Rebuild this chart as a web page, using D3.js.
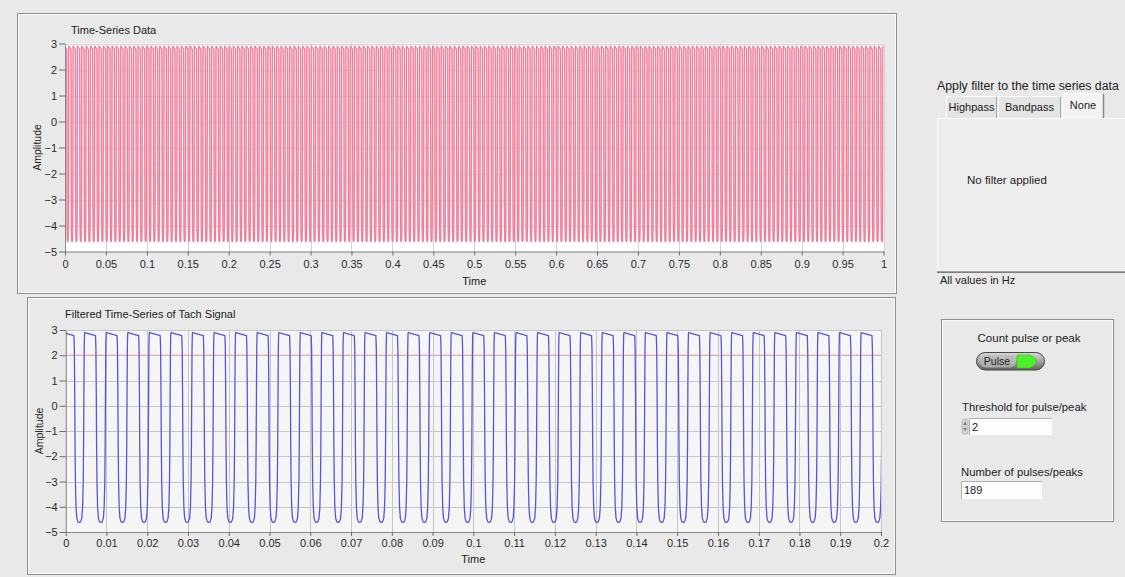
<!DOCTYPE html>
<html>
<head>
<meta charset="utf-8">
<script src="https://cdn.jsdelivr.net/npm/d3@7"></script>
<style>
  html, body { margin: 0; padding: 0; background: #e9e9e9; }
  svg { display: block; font-family: "Liberation Sans", Arial, sans-serif; }
</style>
</head>
<body>
<svg id="vi" width="1125" height="577"></svg>
<script>
// ---------- data ----------
const ampTicks = [3, 2, 1, 0, -1, -2, -3, -4, -5];
const timeTicksFull = [0, 0.05, 0.1, 0.15, 0.2, 0.25, 0.3, 0.35, 0.4, 0.45, 0.5,
                       0.55, 0.6, 0.65, 0.7, 0.75, 0.8, 0.85, 0.9, 0.95, 1];
const timeTicksZoom = [0, 0.01, 0.02, 0.03, 0.04, 0.05, 0.06, 0.07, 0.08, 0.09, 0.1,
                       0.11, 0.12, 0.13, 0.14, 0.15, 0.16, 0.17, 0.18, 0.19, 0.2];

const pulseCount = 189;        // pulses counted over the 1 s record
const pulseThreshold = 2;      // threshold level for pulse counting
const firstDipTime = 0.00334;  // time of the first trough (s)

// One tach period, as phase (fraction of a period, 0 = trough) and amplitude
const pulsePhase = [-0.25, -0.231, -0.213, -0.199, -0.181, -0.153, -0.116, -0.06, 0,
                    0.06, 0.116, 0.153, 0.181, 0.199, 0.213, 0.227, 0.241, 0.255, 0.5];
const pulseAmp   = [2.78, 2.3, 0.5, -1.5, -3.0, -4.0, -4.45, -4.6, -4.62,
                    -4.6, -4.45, -4.0, -3.0, -1.5, 0.5, 2.3, 2.85, 2.9, 2.84];

const filterTabs = ["Highpass", "Bandpass", "None"];
const selectedTab = "None";
const pulseMode = "Pulse";

// ---------- helpers ----------
const svg = d3.select("#vi");
const period = 1 / pulseCount;

function tachSamples(t0, t1) {
  const out = [];
  const kStart = Math.floor((t0 - firstDipTime) / period) - 1;
  const kEnd = Math.ceil((t1 - firstDipTime) / period) + 1;
  for (let k = kStart; k <= kEnd; k++) {
    pulsePhase.forEach((p, i) => out.push({ t: firstDipTime + (k + p) * period, v: pulseAmp[i] }));
  }
  return out;
}

function frame(x, y, w, h) {
  svg.append("rect").attr("x", x + 0.5).attr("y", y + 0.5).attr("width", w).attr("height", h)
    .attr("fill", "none").attr("stroke", "#8e8e8e");
  svg.append("rect").attr("x", x + 1.5).attr("y", y + 1.5).attr("width", w - 2).attr("height", h - 2)
    .attr("fill", "none").attr("stroke", "#fbfbfb");
}

function graph(cfg) {
  frame(cfg.frame[0], cfg.frame[1], cfg.frame[2], cfg.frame[3]);

  const x = d3.scaleLinear().domain([cfg.ticks[0], cfg.ticks[cfg.ticks.length - 1]]).range([cfg.x0, cfg.x1]);
  const y = d3.scaleLinear().domain([-5, 3]).range([cfg.y1, cfg.y0]);
  const g = svg.append("g");

  g.append("rect").attr("x", cfg.x0).attr("y", cfg.y0).attr("width", cfg.x1 - cfg.x0)
    .attr("height", cfg.y1 - cfg.y0).attr("fill", cfg.plotBg);

  // grid
  g.append("g").selectAll("line").data(ampTicks).join("line")
    .attr("x1", cfg.x0).attr("x2", cfg.x1)
    .attr("y1", d => Math.round(y(d)) + 0.5).attr("y2", d => Math.round(y(d)) + 0.5)
    .attr("stroke", cfg.gridColor);
  g.append("g").selectAll("line").data(cfg.ticks).join("line")
    .attr("y1", cfg.y0).attr("y2", cfg.y1)
    .attr("x1", d => Math.round(x(d)) + 0.5).attr("x2", d => Math.round(x(d)) + 0.5)
    .attr("stroke", cfg.gridColor);

  // threshold cursor
  if (cfg.threshold !== undefined) {
    g.append("line").attr("x1", cfg.x0).attr("x2", cfg.x1)
      .attr("y1", y(cfg.threshold)).attr("y2", y(cfg.threshold))
      .attr("stroke", "#eaa3a3").attr("stroke-width", 1.2);
  }

  // signal
  const clipId = "clip" + cfg.id;
  svg.append("clipPath").attr("id", clipId).append("rect")
    .attr("x", cfg.x0).attr("y", cfg.y0 - 2).attr("width", cfg.x1 - cfg.x0).attr("height", cfg.y1 - cfg.y0 + 4);
  const line = d3.line().x(d => x(d.t)).y(d => y(d.v));
  const samples = tachSamples(x.domain()[0], x.domain()[1]);
  (cfg.strokes).forEach(s => {
    g.append("path").datum(samples)
      .attr("clip-path", `url(#${clipId})`)
      .attr("d", line).attr("fill", "none")
      .attr("stroke", s.color).attr("stroke-width", s.width)
      .attr("stroke-linejoin", "round");
  });

  // axes
  const fmt = d3.format("~g");
  const ay = g.append("g").attr("transform", `translate(${cfg.x0},0)`)
    .call(d3.axisLeft(y).tickValues(ampTicks).tickFormat(fmt).tickSize(6).tickPadding(2).tickSizeOuter(0));
  const ax = g.append("g").attr("transform", `translate(0,${cfg.y1})`)
    .call(d3.axisBottom(x).tickValues(cfg.ticks).tickFormat(fmt).tickSize(4).tickPadding(cfg.xPad).tickSizeOuter(0));
  [ay, ax].forEach(a => {
    a.select(".domain").attr("stroke", "#8a8a8a");
    a.selectAll(".tick line").attr("stroke", "#6a6a6a");
    a.selectAll(".tick text").attr("fill", "#2b2b2b").attr("font-size", 11)
      .attr("font-family", "\"Liberation Sans\", Arial, sans-serif");
  });

  // titles
  svg.append("text").attr("x", cfg.titleX).attr("y", cfg.titleY).attr("font-size", 11)
    .attr("fill", "#222").text(cfg.title);
  svg.append("text").attr("transform", `translate(${cfg.ampX},${(cfg.y0 + cfg.y1) / 2}) rotate(-90)`)
    .attr("text-anchor", "middle").attr("font-size", 10.5).attr("fill", "#222").text("Amplitude");
  svg.append("text").attr("x", (cfg.x0 + cfg.x1) / 2).attr("y", cfg.timeY).attr("text-anchor", "middle")
    .attr("font-size", 11).attr("fill", "#222").text("Time");
}

// ---------- graphs ----------
graph({
  id: "raw", frame: [17, 13, 879, 280],
  x0: 65, x1: 883.5, y0: 43.5, y1: 251.5,
  ticks: timeTicksFull, plotBg: "#ffffff", gridColor: "#d4d4d4",
  strokes: [{ color: "#f8b3c3", width: 1.6 }, { color: "#e95a7d", width: 0.65 }], xPad: 5,
  title: "Time-Series Data", titleX: 71, titleY: 34, ampX: 41, timeY: 285
});

graph({
  id: "tach", frame: [27, 297, 868, 277],
  x0: 65.7, x1: 881, y0: 330, y1: 532,
  ticks: timeTicksZoom, plotBg: "#f5f5f5", gridColor: "#c6c6c6",
  strokes: [{ color: "#5656d8", width: 1.3 }], xPad: 3, threshold: pulseThreshold,
  title: "Filtered Time-Series of Tach Signal", titleX: 65, titleY: 318, ampX: 43, timeY: 563
});

// ---------- filter selector ----------
svg.append("text").attr("x", 937).attr("y", 90).attr("font-size", 12.3).attr("fill", "#222")
  .text("Apply filter to the time series data");

// tab page
svg.append("rect").attr("x", 937).attr("y", 118).attr("width", 200).attr("height", 154).attr("fill", "#ededed");
svg.append("line").attr("x1", 937.5).attr("x2", 937.5).attr("y1", 118).attr("y2", 272).attr("stroke", "#ffffff");
svg.append("line").attr("x1", 937).attr("x2", 1125).attr("y1", 118.5).attr("y2", 118.5).attr("stroke", "#ffffff");
svg.append("line").attr("x1", 937).attr("x2", 1125).attr("y1", 271.5).attr("y2", 271.5).attr("stroke", "#a2a2a2");
svg.append("line").attr("x1", 937).attr("x2", 1125).attr("y1", 272.5).attr("y2", 272.5).attr("stroke", "#7d7d7d");

const tabX = [946, 998, 1062, 1104];
filterTabs.forEach((name, i) => {
  const sel = name === selectedTab;
  const x0 = tabX[i], x1 = tabX[i + 1] - (sel ? 0 : 1);
  const top = sel ? 93 : 96;
  svg.append("rect").attr("x", x0).attr("y", top).attr("width", x1 - x0).attr("height", 118 - top + (sel ? 1 : 0))
    .attr("fill", sel ? "#f3f3f3" : "#e4e4e4");
  svg.append("path").attr("d", `M${x0 + 0.5},118 V${top + 0.5} H${x1 - 0.5}`).attr("fill", "none").attr("stroke", "#ffffff");
  svg.append("line").attr("x1", x1 - 0.5).attr("x2", x1 - 0.5).attr("y1", top + 1).attr("y2", 118)
    .attr("stroke", sel ? "#8a8a8a" : "#a6a6a6").attr("stroke-width", sel ? 1.5 : 1);
  svg.append("text").attr("x", (x0 + x1) / 2).attr("y", sel ? 109 : 111).attr("text-anchor", "middle")
    .attr("font-size", 11).attr("fill", "#222").text(name);
});

svg.append("text").attr("x", 967).attr("y", 184).attr("font-size", 11.5).attr("fill", "#222").text("No filter applied");
svg.append("text").attr("x", 940).attr("y", 284).attr("font-size", 11).attr("fill", "#222").text("All values in Hz");

// ---------- pulse counter ----------
frame(941, 319, 172, 202);
svg.append("text").attr("x", 1029).attr("y", 342).attr("text-anchor", "middle").attr("font-size", 11.5)
  .attr("fill", "#222").text("Count pulse or peak");

const grad = svg.append("defs").append("linearGradient").attr("id", "knob").attr("x1", 0).attr("x2", 0).attr("y1", 0).attr("y2", 1);
grad.append("stop").attr("offset", 0).attr("stop-color", "#d8d8d8");
grad.append("stop").attr("offset", 0.5).attr("stop-color", "#a4a4a4");
grad.append("stop").attr("offset", 1).attr("stop-color", "#5e5e5e");
svg.append("rect").attr("x", 976.5).attr("y", 352.5).attr("width", 68).attr("height", 17.5).attr("rx", 8.7)
  .attr("fill", "url(#knob)").attr("stroke", "#474747");
svg.append("rect").attr("x", 980).attr("y", 355).attr("width", 36).attr("height", 12.5).attr("rx", 6)
  .attr("fill", "#bdbdbd").attr("opacity", 0.7);
svg.append("text").attr("x", 997).attr("y", 365).attr("text-anchor", "middle").attr("font-size", 10.5)
  .attr("fill", "#1c1c1c").text(pulseMode);
svg.append("path").attr("d", "M1017,355 H1030 Q1043,361 1030,368 H1017 Z").attr("fill", "#4ef02c")
  .attr("stroke", "#3cb820").attr("stroke-width", 0.6);

svg.append("text").attr("x", 962).attr("y", 411).attr("font-size", 11.3).attr("fill", "#222").text("Threshold for pulse/peak");
// spinner
svg.append("rect").attr("x", 962).attr("y", 419).attr("width", 6).attr("height", 15).attr("rx", 2.5)
  .attr("fill", "#d6d6d6").attr("stroke", "#9c9c9c").attr("stroke-width", 0.6);
svg.append("path").attr("d", "M963.2,425 L965,421.5 L966.8,425 Z M963.2,428 L965,431.5 L966.8,428 Z").attr("fill", "#7a7a7a");
svg.append("rect").attr("x", 969).attr("y", 418).attr("width", 83).attr("height", 17).attr("fill", "#fdfdfd");
svg.append("path").attr("d", "M969.5,435 V418.5 H1052").attr("fill", "none").attr("stroke", "#b0b0b0");
svg.append("text").attr("x", 972).attr("y", 430.5).attr("font-size", 11).attr("fill", "#222").text(pulseThreshold);

svg.append("text").attr("x", 961).attr("y", 476).attr("font-size", 11.3).attr("fill", "#222").text("Number of pulses/peaks");
svg.append("rect").attr("x", 961).attr("y", 481).attr("width", 81).attr("height", 18).attr("fill", "#fdfdfd");
svg.append("path").attr("d", "M961.5,499 V481.5 H1042").attr("fill", "none").attr("stroke", "#b0b0b0");
svg.append("text").attr("x", 964).attr("y", 494).attr("font-size", 11).attr("fill", "#222").text(pulseCount);
</script>
</body>
</html>
